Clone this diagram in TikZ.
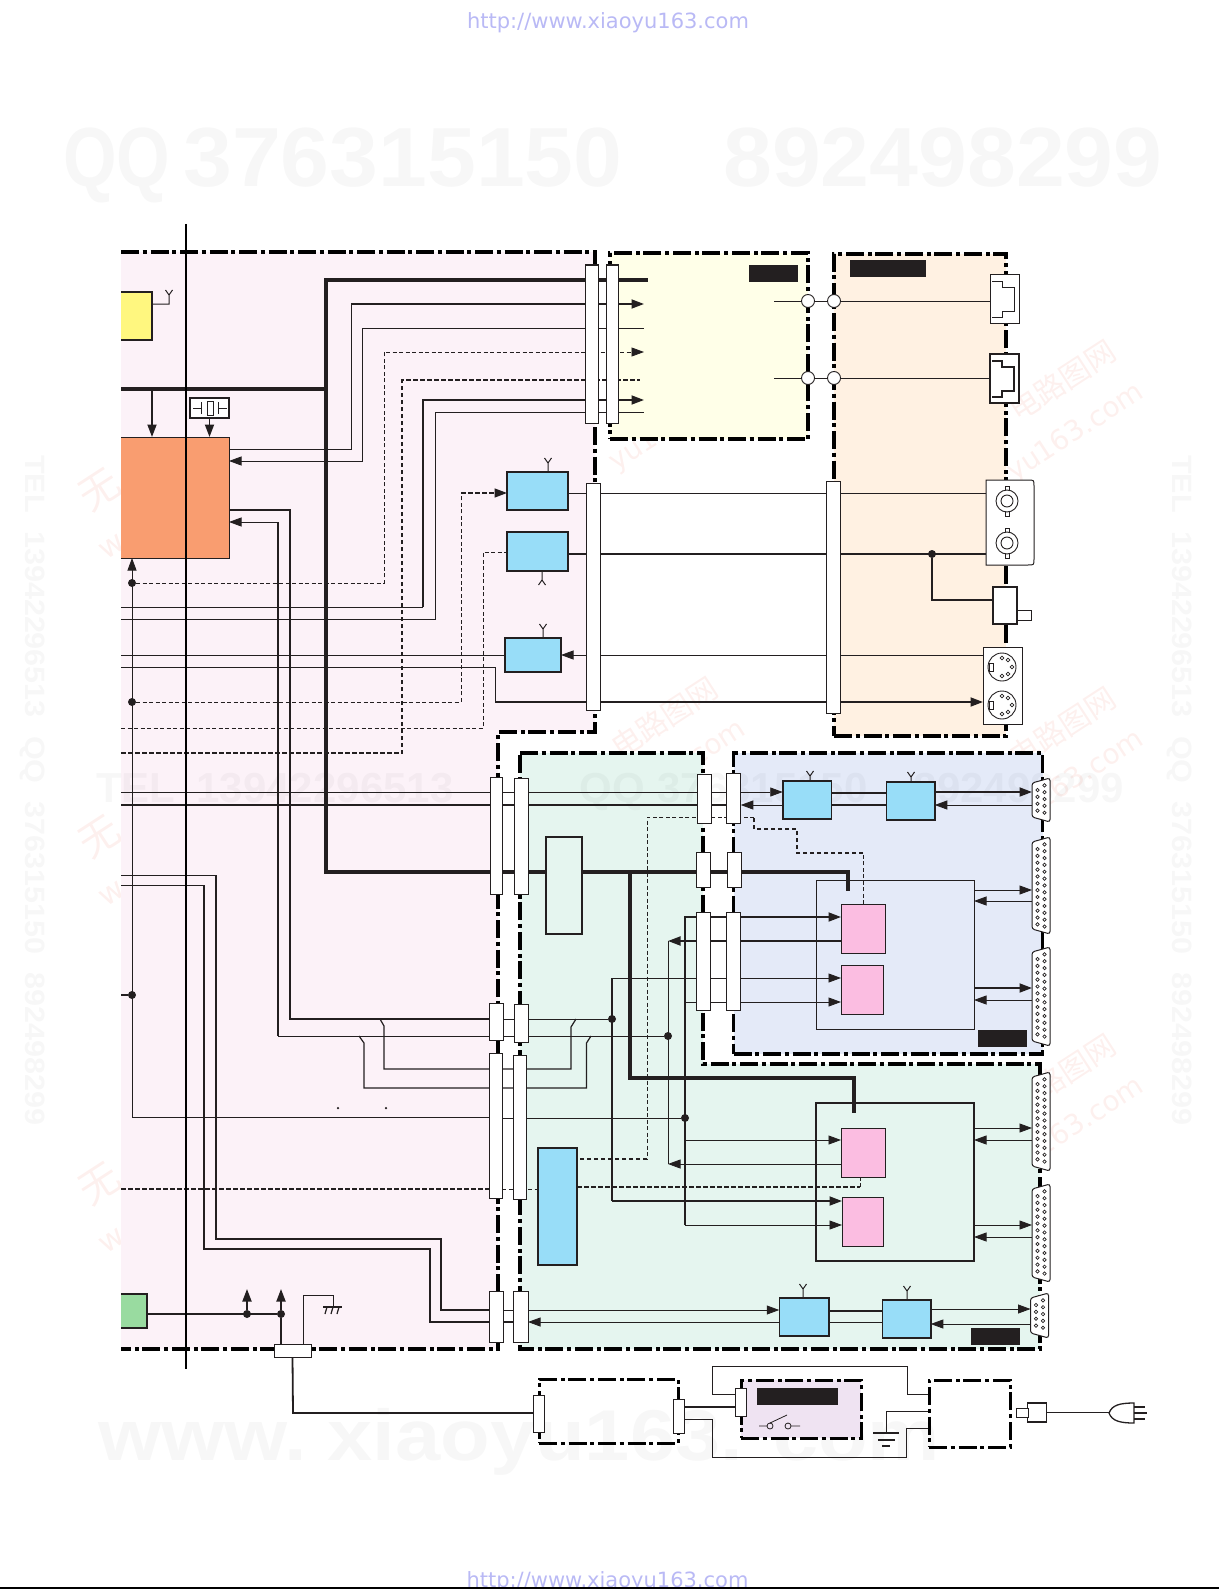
\documentclass[tikz,border=0pt]{standalone}
\usepackage{fontspec}
\usepackage{tikz}
\usetikzlibrary{arrows.meta,backgrounds}
\newfontfamily\wmfont{Liberation Sans}
\newfontfamily\urlfont{DejaVu Sans}
\newfontfamily\cjkfont{Noto Sans CJK SC}
\definecolor{ink}{HTML}{231F20}
\definecolor{pinkzone}{HTML}{FCF2F8}
\definecolor{yellowzone}{HTML}{FFFFE8}
\definecolor{beigezone}{HTML}{FFF1E2}
\definecolor{greenzone}{HTML}{E5F5EF}
\definecolor{bluezone}{HTML}{E4EAF8}
\definecolor{lilaczone}{HTML}{EFE3F2}
\definecolor{blueblock}{HTML}{98DDF8}
\definecolor{pinkblock}{HTML}{FBBDE1}
\definecolor{orangeblock}{HTML}{F99D70}
\definecolor{yellowblock}{HTML}{FFF77F}
\definecolor{greenblock}{HTML}{99DBA0}
\definecolor{urlblue}{HTML}{B9B9F5}
\definecolor{stampred}{HTML}{FDF0EE}
\tikzset{
  wh/.style 2 args={minimum width=#1,minimum height=#2,inner sep=0pt,outer sep=0pt},
  thin wire/.style={draw=ink,line width=.8pt},
  mid wire/.style={draw=ink,line width=1.2pt},
  med wire/.style={draw=ink,line width=1.8pt},
  bus wire/.style={draw=ink,line width=3.5pt},
  dash wire/.style={draw=ink,line width=.8pt,dash pattern=on 4pt off 2.5pt},
  dash med wire/.style={draw=ink,line width=1.5pt,dash pattern=on 4.5pt off 2.5pt},
  zone line/.style={draw=black,line width=3.2pt,dash pattern=on 18pt off 3.5pt on 4pt off 4pt},
  power line/.style={draw=black,line width=3pt,dash pattern=on 18pt off 3.5pt on 4pt off 4pt},
  strip node/.style={draw=ink,fill=white,line width=1pt},
  blue node/.style={draw=ink,fill=blueblock,line width=1.5pt},
  pink node/.style={draw=ink,fill=pinkblock,line width=1pt},
  black node/.style={fill=ink},
  dot node/.style={circle,fill=ink,minimum size=8pt,inner sep=0pt},
  ring node/.style={circle,draw=ink,fill=white,line width=.9pt,minimum size=13pt,inner sep=0pt},
  socket node/.style={draw=ink,fill=white,line width=1pt},
  pin mark/.style={draw=ink,fill=white,line width=.7pt},
  mark text/.style={text opacity=.03,text=black,inner sep=0pt,font=\wmfont\bfseries},
  stamp text/.style={text=stampred,inner sep=0pt,rotate=33,anchor=base west},
  url text/.style={text=urlblue,inner sep=0pt,anchor=base,font=\urlfont\fontsize{21}{24}\selectfont}
}
% antenna: x, foot y, fork y, sign of the fork tips
\newcommand{\ant}[4]{\draw[mid wire,line width=1pt] (#1,#2) -- (#1,#3) -- ++(-3.5,#4) (#1,#3) -- ++(3.5,#4);}
% d-sub socket: name, left x, top y, bottom y, pins left, pins right
\newcommand{\dsub}[6]{%
  \pgfmathsetmacro{\dsy}{(#3+#4)/2}\pgfmathsetmacro{\dsh}{#4-#3}
  \node[wh={18}{\dsh}] (#1) at (#2+9,\dsy) {};
  \draw[socket node,rounded corners=2.5pt] (#2,#3+5) -- (#2+18,#3) -- (#2+18,#4) -- (#2,#4-5) -- cycle;
  \foreach \i in {1,...,#5} \draw[pin mark] (#2+5.5,#3+5.2+\i*6.85) circle (1.7);
  \foreach \i in {1,...,#6} \draw[pin mark] (#2+12.5,#3+0.5+\i*6.85) circle (1.7);
}
\begin{document}
\begin{tikzpicture}[x=1pt,y=-1pt,>={Triangle[length=12.5pt,width=9pt]}]
  \useasboundingbox (0,0) rectangle (1219,1589);

  % blocks of the main board
  \node[fill=yellowblock,wh={31}{48}] (yel) at (136.5,316) {};
  \draw[line width=1.3pt,draw=ink] (yel.north west) -| (yel.south east) -- (yel.south west);
  \node[fill=orangeblock,wh={108}{121}] (org) at (175,497.5) {};
  \draw[line width=1pt,draw=ink] (org.north west) -| (org.south east) -- (org.south west);
  \node[fill=greenblock,wh={26}{34}] (grn) at (134,1311) {};
  \draw[line width=1.5pt,draw=ink] (grn.north west) -| (grn.south east) -- (grn.south west);
  \node[socket node,line width=1.3pt,wh={39}{20}] (xtal) at (209.5,408) {};
  \draw[thin wire] (193,408) -- (201,408) (201,402) -- (201,414) (207.5,401) rectangle (213,415)
    (218,402) -- (218,414) (218,408) -- (227,408);

  \node[blue node,wh={61}{38}] (ba) at (537.5,491) {};
  \node[blue node,wh={61}{39}] (bb) at (537.5,551.5) {};
  \node[blue node,wh={56}{34}] (bc) at (533,655) {};
  \node[blue node,wh={48.5}{38}] (bd) at (807,800) {};
  \node[blue node,wh={48.5}{38}] (be) at (910.5,801) {};
  \node[blue node,wh={39}{117}] (bf) at (557.5,1206.5) {};
  \node[blue node,wh={49.5}{38}] (bg) at (804,1317) {};
  \node[blue node,wh={48.5}{38}] (bh) at (906.5,1319) {};

  \node[draw=ink,line width=1.2pt,fill=greenzone,wh={36}{97}] (card) at (564,885.5) {};
  \node[draw=ink,line width=1pt,wh={158}{149}] (frameup) at (895,954.5) {};
  \node[draw=ink,line width=1.2pt,wh={158}{158}] (framelo) at (895,1182) {};
  \node[pink node,wh={44}{49}] (pinka) at (863,928.5) {};
  \node[pink node,wh={42}{49}] (pinkb) at (862,989.5) {};
  \node[pink node,wh={44}{49}] (pinkc) at (863,1152.5) {};
  \node[pink node,wh={41}{49}] (pinkd) at (862.5,1221.5) {};

  \node[black node,wh={49}{17}] (taga) at (773.5,273.5) {};
  \node[black node,wh={76}{17}] (tagb) at (888,268.5) {};
  \node[black node,wh={49}{17}] (tagc) at (1002.5,1038.5) {};
  \node[black node,wh={49}{17}] (tagd) at (995.5,1336.5) {};

  % power part
  \node[power line,wh={139}{64}] (pwa) at (608.5,1411) {};
  \node[power line,fill=lilaczone,wh={120}{58}] (pwsw) at (801,1409) {};
  \node[power line,wh={81}{67}] (pwb) at (969.5,1413.5) {};
  \node[black node,wh={81}{17}] (tage) at (797.5,1396.5) {};
  \draw[thin wire] (759,1426) -- (767,1426) (770,1423) -- (787,1415) (791,1426) -- (800,1426);
  \draw[thin wire] (770,1426) circle (3) (788,1426) circle (3);

  % connector strips
  \node[strip node,wh={13}{158}] (topa) at (591.5,344) {};
  \node[strip node,wh={12}{158}] (topb) at (612,344) {};
  \node[strip node,wh={14}{227}] (longa) at (593,596.5) {};
  \node[strip node,wh={14}{232}] (longb) at (833,597) {};
  \node[strip node,wh={12}{117}] (ea) at (496,835.5) {};
  \node[strip node,wh={14}{116}] (eb) at (521,836) {};
  \node[strip node,wh={14}{49}] (fa) at (704.5,798.5) {};
  \node[strip node,wh={14.5}{50}] (fb) at (733.5,798) {};
  \node[strip node,wh={14}{35}] (ga) at (703.5,869.5) {};
  \node[strip node,wh={14}{35}] (gb) at (734,869.5) {};
  \node[strip node,wh={14}{98}] (ha) at (703.5,961) {};
  \node[strip node,wh={14.5}{98}] (hb) at (733.5,961) {};
  \node[strip node,wh={13.5}{37}] (ia) at (496.7,1021.5) {};
  \node[strip node,wh={14}{38}] (ib) at (521,1023) {};
  \node[strip node,wh={13}{145}] (ka) at (495.5,1125.5) {};
  \node[strip node,wh={13}{144}] (kb) at (519.5,1127) {};
  \node[strip node,wh={14}{51}] (la) at (496,1316.5) {};
  \node[strip node,wh={15}{51}] (lb) at (520.5,1316.5) {};
  \node[strip node,wh={37}{13}] (pcon) at (292.5,1350.5) {};
  \node[strip node,wh={11}{37}] (psa) at (539,1413.5) {};
  \node[strip node,wh={11}{34}] (psb) at (679,1416) {};
  \node[strip node,wh={11}{28}] (psc) at (741,1402) {};

  % sockets
  \node[socket node,wh={29}{49}] (rja) at (1004.5,298.5) {};
  \node[socket node,line width=1.6pt,wh={29}{49}] (rjb) at (1004.5,378.5) {};
  \foreach \jy/\jw in {274/.8,354/1.5}
    \draw[draw=ink,line width=\jw pt] (992,\jy+7) -- (1002,\jy+7) -- (1002,\jy+13) -- (1014,\jy+13)
      -- (1014,\jy+37) -- (1002,\jy+37) -- (1002,\jy+43) -- (992,\jy+43);
  \node[wh={48}{85}] (bncb) at (1010,522.5) {};
  \draw[draw=ink,fill=white,line width=1pt] (986,480) -- (1028,480) .. controls (1034,480) .. (1034,486)
    -- (1034,559) .. controls (1034,565) .. (1028,565) -- (986,565) -- cycle;
  \foreach \by in {501,543} {
    \draw[pin mark,line width=.9pt] (1005,\by-15) rectangle (1009,\by+15);
    \draw[pin mark,line width=.9pt] (1007,\by) circle (11);
    \draw[pin mark,line width=.9pt] (1007,\by) circle (6);
  }
  \node[socket node,line width=1.3pt,wh={24}{37}] (rca) at (1005,605.5) {};
  \node[socket node,wh={14}{10}] (rcat) at (1024,615) {};
  \node[socket node,wh={39}{76.5}] (mdin) at (1002.5,686) {};
  \foreach \my in {667,705} {
    \draw[pin mark,line width=.9pt] (1002,\my) circle (14);
    \draw[pin mark] (989,\my-4) rectangle (993,\my+4);
    \foreach \px/\py in {0/-9,6/-7,10/0,6/7,0/9}
      \draw[pin mark] (1002+\px,\my+\py) circle (1.9);
  }
  \dsub{dsa}{1032}{778}{822}{4}{5}
  \dsub{dsb}{1032}{837}{934}{12}{13}
  \dsub{dsc}{1032}{947}{1046}{12}{13}
  \dsub{dsd}{1032}{1072}{1171}{12}{13}
  \dsub{dse}{1032}{1184}{1282}{12}{13}
  \dsub{dsf}{1030.5}{1293}{1338}{4}{5}
  \node[socket node,line width=1.2pt,wh={18.5}{19}] (plc) at (1037,1412.5) {};
  \node[socket node,wh={12}{9}] (plt) at (1022,1412.5) {};

  % rings and joints
  \node[ring node] (ca1) at (808,301) {};
  \node[ring node] (ca2) at (834,301) {};
  \node[ring node] (cb1) at (808,378) {};
  \node[ring node] (cb2) at (834,378) {};
  \node[dot node] (dota) at (132,583) {};
  \node[dot node] (dotb) at (132,702) {};
  \node[dot node] (dote) at (132,995) {};
  \node[dot node] (dotg) at (932,554) {};
  \node[dot node] (dotc) at (612,1019) {};
  \node[dot node] (dotd) at (668,1036) {};
  \node[dot node] (dotf) at (685,1118) {};
  \node[dot node] (doth) at (247,1314) {};
  \node[dot node] (doti) at (281,1314) {};
  \node[dot node,minimum size=2.5pt] (dotx) at (338,1108) {};
  \node[dot node,minimum size=2.5pt] (doty) at (386,1108) {};

  \coordinate (lf) at (121,0);
  \coordinate (yt) at (644,0);
  \coordinate (yl) at (774,0);

  \begin{pgfonlayer}{background}
    % stamps, under the fills
    \foreach \sy in {0,347,694} {
      \node[stamp text,font=\cjkfont\fontsize{30}{32}\selectfont] at (1018,423+\sy) {电路图网};
      \node[stamp text,font=\urlfont\fontsize{28}{30}\selectfont] at (1014,482+\sy) {yu163.com};
      \node[stamp text,anchor=center,font=\cjkfont\fontsize{40}{42}\selectfont] at (100,490+\sy) {无};
      \node[stamp text,anchor=center,font=\urlfont\fontsize{30}{32}\selectfont] at (112,547+\sy) {w};
    }
    \foreach \sy in {0,347} {
      \node[stamp text,font=\cjkfont\fontsize{30}{32}\selectfont] at (620,413+\sy) {电路图网};
      \node[stamp text,font=\urlfont\fontsize{28}{30}\selectfont] at (616,472+\sy) {yu163.com};
    }

    % zones
    \fill[pinkzone] (121,252) -- (595,252) -- (595,732) -- (498,732) -- (498,1349) -- (121,1349) -- cycle;
    \draw[zone line] (121,252) -- (595,252) -- (595,732) -- (498,732) -- (498,1349) -- (121,1349);
    \node[zone line,fill=yellowzone,wh={198}{186}] (zya) at (709,346) {};
    \node[zone line,fill=beigezone,wh={172}{482}] (zbe) at (920,495) {};
    \fill[greenzone] (520,753) -- (703,753) -- (703,1064) -- (1040,1064) -- (1040,1349) -- (520,1349) -- cycle;
    \draw[zone line] (520,753) -- (703,753) -- (703,1064) -- (1040,1064) -- (1040,1349) -- (520,1349) -- cycle;
    \node[zone line,fill=bluezone,wh={309}{301}] (zbl) at (888,903.5) {};

    % faint marks
    \node[mark text,anchor=base west,font=\wmfont\bfseries\fontsize{84}{90}\selectfont] at (63,187) {\scalebox{.82}[1]{QQ}};
    \node[mark text,anchor=base west,font=\wmfont\bfseries\fontsize{84}{90}\selectfont] at (183,187) {\scalebox{1.045}[1]{376315150}};
    \node[mark text,anchor=base west,font=\wmfont\bfseries\fontsize{84}{90}\selectfont] at (723,187) {\scalebox{1.045}[1]{892498299}};
    \node[mark text,anchor=base west,font=\wmfont\bfseries\fontsize{72}{76}\selectfont] at (98,1460) {\scalebox{1.128}[1]{www.\hspace{-.12em} xiaoyu163. com}};
    \node[mark text,anchor=west,font=\wmfont\bfseries\fontsize{42}{46}\selectfont] at (96,792)
      {TEL\hspace{.5em}13942296513\hspace{3em}QQ\hspace{.3em}376315150\hspace{1.1em}892498299};
    \foreach \tx in {33,1180}
      \node[mark text,rotate=-90,anchor=west,font=\wmfont\bfseries\fontsize{28}{30}\selectfont] at (\tx,455)
        {\scalebox{1.09}[1]{TEL\hspace{.6em}13942296513\hspace{.6em}QQ\hspace{.6em}376315150\hspace{.6em}892498299}};

    % top group of wires
    \draw[bus wire] (lf |- 0,389) -- (326,389);
    \draw[bus wire,line cap=rect] (646,280) -- (326,280) -- (326,872) -- (848,872) -- (848,889);
    \draw[bus wire] (630,872) -- (630,1078) -- (854,1078) -- (854,1113);
    \draw[thin wire] (org.east |- 0,449) -- (351,449) -- (351,304);
    \draw[med wire,->] (351,304) -- (yt |- 0,304);
    \draw[thin wire,<-] (org.east |- 0,461) -- (362,461) -- (362,328) -- (yt |- 0,328);
    \draw[dash wire,->] (dota) -- (384,583) -- (384,352) -- (yt |- 0,352);
    \draw[dash med wire] (lf |- 0,753) -- (402,753) -- (402,380) -- (640,380);
    \draw[thin wire] (lf |- 0,607) -- (423,607);
    \draw[med wire,->] (423,607) -- (423,400) -- (yt |- 0,400);
    \draw[thin wire] (lf |- 0,619) -- (435,619) -- (435,412) -- (yt |- 0,412);
    \draw[med wire,->] (152,389) -- (org.north -| 152,0);
    \draw[med wire,->] (xtal.south) -- (org.north -| xtal.south);
    \draw[mid wire,line width=1pt] (yel.east |- 0,304) -- (169,304) -- (169,295) -- ++(-3.5,-5) (169,295) -- ++(3.5,-5);

    % orange block, lower side
    \draw[med wire] (org.east |- 0,510) -- (290,510) -- (290,1019) -- (ia.west |- 0,1019);
    \draw[mid wire] (278,522) -- (278,1036);
    \draw[thin wire,<-] (org.east |- 0,522) -- (278,522);
    \draw[thin wire] (278,1036) -- (ia.west |- 0,1036);
    \draw[thin wire] (ia.east |- 0,1019) -- (dotc);
    \draw[thin wire] (ia.east |- 0,1036) -- (dotd);
    \draw[thin wire,->] (ka.west |- 0,1117) -- (132,1117) -- (org.south -| 132,0);
    \draw[mid wire] (lf |- 0,995) -- (dote);
    \draw[thin wire] (ka.east |- 0,1118) -- (dotf);

    % branches
    \draw[mid wire] (380,1019) -- (384,1026) -- (384,1069) -- (ka.west |- 0,1069);
    \draw[mid wire] (359,1036) -- (364,1043) -- (364,1088) -- (ka.west |- 0,1088);
    \draw[mid wire] (576,1019) -- (571,1027) -- (571,1069) -- (ka.east |- 0,1069);
    \draw[mid wire] (591,1036) -- (586.5,1043) -- (586.5,1088) -- (ka.east |- 0,1088);

    % blue blocks on the main board
    \draw[dash wire] (dotb) -- (461,702) -- (461,493);
    \draw[dash med wire,->] (461,493) -- (ba.west |- 0,493);
    \draw[dash wire] (lf |- 0,728) -- (483,728) -- (483,552) -- (bb.west |- 0,552);
    \draw[thin wire] (lf |- 0,655) -- (bc.west |- 0,655);
    \draw[thin wire,<-] (bc.east |- 0,655) -- (mdin.west |- 0,655);
    \draw[thin wire] (lf |- 0,667) -- (495,667) -- (495,702);
    \draw[med wire,->] (495,702) -- (mdin.west |- 0,702);
    \draw[thin wire] (ba.east |- 0,493) -- (bncb.west |- 0,493);
    \draw[med wire] (bb.east |- 0,554) -- (bncb.west |- 0,554);
    \draw[med wire] (dotg) -- (932,600) -- (rca.west |- 0,600);
    \ant{548}{472}{463}{-5}
    \ant{542}{571}{580}{5}
    \ant{543}{638}{629}{-5}

    % rings to the sockets
    \draw[thin wire] (yl |- 0,301) -- (ca1) -- (ca2) -- (rja.west |- 0,301);
    \draw[thin wire] (yl |- 0,378) -- (cb1) -- (cb2) -- (rjb.west |- 0,378);

    % upper right group
    \draw[thin wire,->] (lf |- 0,792) -- (bd.west |- 0,792);
    \draw[med wire] (lf |- 0,805) -- (fb.west |- 0,805);
    \draw[thin wire,<-] (fb.east |- 0,805) -- (bd.west |- 0,805);
    \draw[med wire] (bd.east |- 0,793) -- (be.west |- 0,793);
    \draw[med wire] (bd.east |- 0,805) -- (be.west |- 0,805);
    \draw[med wire,->] (be.east |- 0,792) -- (dsa.west |- 0,792);
    \draw[thin wire,<-] (be.east |- 0,805) -- (dsa.west |- 0,805);
    \ant{810}{781}{776}{-5}
    \ant{911}{782}{777}{-5}
    \draw[dash wire] (pinka.north) -- (863,853);
    \draw[dash med wire] (863,853) -- (797,853) -- (797,829) -- (754,829) -- (754,817);
    \draw[dash wire] (754,817) -- (647,817) -- (647,1159);
    \draw[dash med wire] (647,1159) -- (bf.east |- 0,1159);

    % pink blocks
    \draw[med wire,->] (685,1225) -- (685,917) -- (pinka.west |- 0,917);
    \draw[med wire,<-] (668,941) -- (pinka.west |- 0,941);
    \draw[thin wire,->] (685,1002) -- (pinkb.west |- 0,1002);
    \draw[thin wire,->] (685,1140) -- (pinkc.west |- 0,1140);
    \draw[thin wire,->] (685,1225) -- (pinkd.west |- 0,1225);
    \draw[thin wire,<-] (668,1164) -- (pinkc.west |- 0,1164);
    \draw[thin wire] (668,941) -- (668,1164);
    \draw[thin wire,->] (612,978) -- (pinkb.west |- 0,978);
    \draw[med wire] (612,978) -- (612,1201);
    \draw[med wire,->] (612,1201) -- (pinkd.west |- 0,1201);
    \draw[dash med wire,line width=1.2pt] (lf |- 0,1189) -- (ka.west |- 0,1189);
    \draw[dash wire] (ka.east |- 0,1189) -- (bf.west |- 0,1189);
    \draw[dash med wire] (bf.east |- 0,1187) -- (860,1187);
    \draw[dash wire] (860,1187) -- (pinkc.south -| 860,0);

    % frames to the d-sub sockets
    \draw[thin wire,->] (frameup.east |- 0,890) -- (dsb.west |- 0,890);
    \draw[thin wire,<-] (frameup.east |- 0,901) -- (dsb.west |- 0,901);
    \draw[med wire,->] (frameup.east |- 0,988) -- (dsc.west |- 0,988);
    \draw[thin wire,<-] (frameup.east |- 0,1000) -- (dsc.west |- 0,1000);
    \draw[thin wire,->] (framelo.east |- 0,1128) -- (dsd.west |- 0,1128);
    \draw[thin wire,<-] (framelo.east |- 0,1140) -- (dsd.west |- 0,1140);
    \draw[thin wire,->] (framelo.east |- 0,1225) -- (dse.west |- 0,1225);
    \draw[thin wire,<-] (framelo.east |- 0,1237) -- (dse.west |- 0,1237);

    % lower group
    \draw[thin wire] (lf |- 0,875) -- (216,875);
    \draw[thin wire] (lf |- 0,885) -- (204,885);
    \draw[med wire] (216,875) -- (216,1239) -- (441,1239) -- (441,1310) -- (la.west |- 0,1310);
    \draw[mid wire] (204,885) -- (204,1249) -- (430,1249) -- (430,1322) -- (la.west |- 0,1322);
    \draw[thin wire] (la.east |- 0,1310) -- (lb.west |- 0,1310);
    \draw[med wire] (la.east |- 0,1322) -- (lb.west |- 0,1322);
    \draw[thin wire,->] (lb.east |- 0,1310) -- (bg.west |- 0,1310);
    \draw[thin wire,<-] (lb.east |- 0,1322) -- (bg.west |- 0,1322);
    \draw[med wire] (bg.east |- 0,1311) -- (bh.west |- 0,1311);
    \draw[med wire] (bg.east |- 0,1322.5) -- (bh.west |- 0,1322.5);
    \draw[thin wire,->] (bh.east |- 0,1309) -- (dsf.west |- 0,1309);
    \draw[thin wire,<-] (bh.east |- 0,1324) -- (dsf.west |- 0,1324);
    \ant{803}{1298}{1289}{-5}
    \ant{907}{1300}{1291}{-5}

    % green block and power
    \draw[med wire] (grn.east |- 0,1314) -- (doti);
    \draw[med wire,->] (doth) -- (247,1289);
    \draw[med wire,->] (doti) -- (281,1289);
    \draw[med wire] (doti) -- (pcon.north -| 281,0);
    \draw[thin wire] (pcon.north -| 303,0) -- (303,1295) -- (333,1295) -- (333,1307);
    \draw[med wire] (323,1307) -- (342,1307);
    \foreach \cx in {327,333,339} \draw[mid wire] (\cx,1307) -- (\cx-2,1314);
    \draw[med wire] (pcon.south) -- (293,1413) -- (psa.west |- 0,1413);
    \draw[med wire] (psb.east |- 0,1407) -- (psc.west |- 0,1407);
    \draw[thin wire] (psb.east |- 0,1419) -- (712,1419) -- (712,1457) -- (906,1457) -- (906,1428) -- (pwb.west |- 0,1428);
    \draw[thin wire] (psc.west |- 0,1394) -- (712,1394) -- (712,1366) -- (907,1366) -- (907,1394) -- (pwb.west |- 0,1394);
    \draw[thin wire] (pwb.west |- 0,1411) -- (886.5,1411) -- (886.5,1433);
    \draw[mid wire] (873,1433) -- (899,1433) (878,1440) -- (895,1440) (882,1446) -- (890,1446);
  \end{pgfonlayer}

  % plug
  \draw[thin wire] (plc.east) -- (1109,1412.5);
  \draw[draw=ink,line width=1.3pt,fill=white] (1109,1413) .. controls (1112,1405) and (1120,1403) .. (1134,1403)
    -- (1134,1423) .. controls (1120,1423) and (1112,1421) .. cycle;
  \draw[med wire] (1134,1407) -- (1145,1407) (1134,1419) -- (1145,1419);
  \draw[mid wire] (1134,1413) -- (1147,1413);

  % long line over the board, page texts
  \coordinate (vt) at (186,224);
  \coordinate (vb) at (186,1369);
  \draw[draw=black,line width=2pt] (vt) -- (vb);
  \node[url text] (urltop) at (608,29) {http://www.xiaoyu163.com};
  \node[url text] (urlbot) at (607.5,1587) {http://www.xiaoyu163.com};
  \draw[draw=black,line width=1.5pt] (0,1588.2) -- (1219,1588.2);
\end{tikzpicture}
\end{document}
